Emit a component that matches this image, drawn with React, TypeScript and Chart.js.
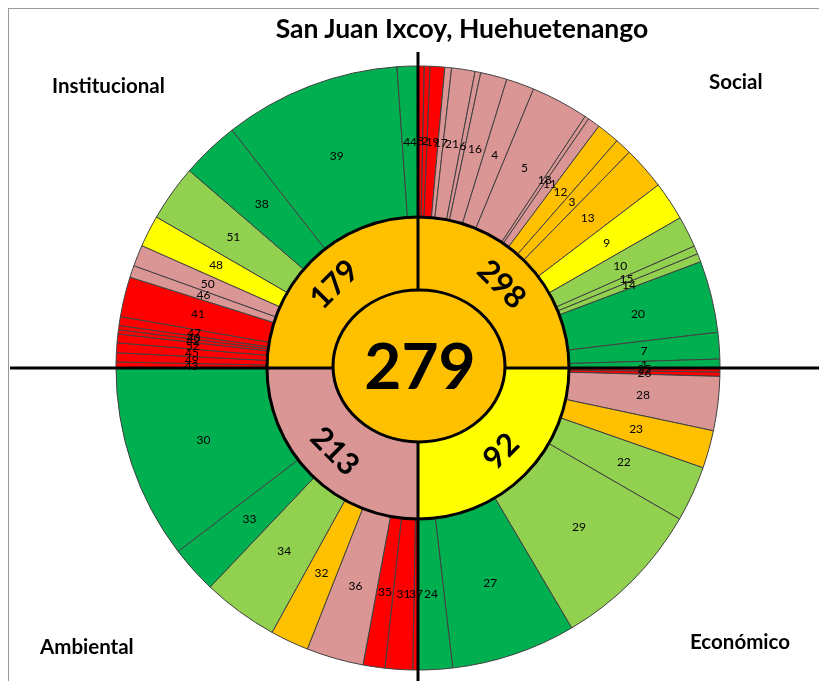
import React, { useEffect, useRef } from 'react';
import { Chart, registerables } from 'chart.js';

Chart.register(...registerables);

const TITLE = 'San Juan Ixcoy, Huehuetenango';
const CENTER_VALUE = '279';

// color keys: G green, L light green, Y yellow, O orange, P pink, R red
const PALETTE: Record<string, string> = {
  G: '#00B050',
  L: '#92D050',
  Y: '#FFFF00',
  O: '#FFC000',
  P: '#DA9694',
  R: '#FF0000',
};

// Middle ring: dimensions (clockwise from top)
const dimensionNames = ['Social', 'Económico', 'Ambiental', 'Institucional'];
const dimensionScores = ['298', '92', '213', '179'];
const dimensionShares = [90, 90, 90, 90];
const dimensionColors = ['O', 'Y', 'P', 'O'];

// Outer ring, per dimension: indicator numbers, angular share (degrees), color key
const socialLabels = ['8', '2', '19', '17', '21', '6', '16', '4', '5', '18', '11', '12', '3', '13', '9', '10', '15', '14', '20', '7', '1'];
const socialShares = [1.2, 1.1, 2.8, 1.3, 4.5, 1.1, 5.1, 5.4, 11.1, 0.8, 2.4, 4.4, 3.2, 8.3, 7.5, 6.0, 1.6, 1.6, 13.8, 5.1, 1.7];
const socialColors = ['R', 'R', 'R', 'P', 'P', 'P', 'P', 'P', 'P', 'P', 'P', 'O', 'O', 'O', 'Y', 'L', 'L', 'L', 'G', 'G', 'G'];

const economicoLabels = ['25', '26', '28', '23', '22', '29', '27', '24'];
const economicoShares = [0.8, 0.8, 10.4, 7.3, 10.7, 29.4, 24, 6.6];
const economicoColors = ['R', 'R', 'P', 'O', 'L', 'L', 'G', 'G'];

const ambientalLabels = ['37', '31', '35', '36', '32', '34', '33', '30'];
const ambientalShares = [1, 5.3, 4.2, 11, 7.4, 14.6, 9.1, 37.4];
const ambientalColors = ['R', 'R', 'R', 'P', 'O', 'L', 'G', 'G'];

const institucionalLabels = ['43', '49', '45', '52', '42', '40', '47', '41', '46', '50', '48', '51', '38', '39', '44'];
const institucionalShares = [1.15, 1.75, 1.9, 1.7, 0.8, 0.8, 1.7, 7.7, 2.3, 4.1, 6.1, 10.8, 11.2, 34, 4];
const institucionalColors = ['R', 'R', 'R', 'R', 'R', 'R', 'R', 'R', 'P', 'P', 'Y', 'L', 'G', 'G', 'G'];

const outerLabels = [...socialLabels, ...economicoLabels, ...ambientalLabels, ...institucionalLabels];
const outerShares = [...socialShares, ...economicoShares, ...ambientalShares, ...institucionalShares];
const outerColors = [...socialColors, ...economicoColors, ...ambientalColors, ...institucionalColors].map((k) => PALETTE[k]);

const FONT = 'Lato, "Open Sans", sans-serif';

const overlayPlugin = {
  id: 'sunburstOverlay',
  afterDatasetsDraw(chart: any) {
    const ctx: CanvasRenderingContext2D = chart.ctx;
    const outer = chart.getDatasetMeta(0);
    const mid = chart.getDatasetMeta(1);
    const a0 = mid.data[0];
    const cx = a0.x;
    const cy = a0.y;
    const rMid = a0.outerRadius;

    ctx.save();
    // ring boundary
    ctx.beginPath();
    ctx.arc(cx, cy, rMid, 0, Math.PI * 2);
    ctx.lineWidth = 3;
    ctx.strokeStyle = '#000';
    ctx.stroke();

    // cross lines
    ctx.beginPath();
    ctx.lineWidth = 3;
    ctx.moveTo(cx, 52);
    ctx.lineTo(cx, chart.height);
    ctx.moveTo(10, cy);
    ctx.lineTo(chart.width, cy);
    ctx.stroke();

    // middle ring labels, rotated along the ring
    ctx.fillStyle = '#000';
    ctx.textAlign = 'center';
    ctx.textBaseline = 'middle';
    ctx.font = `bold 31px ${FONT}`;
    mid.data.forEach((arc: any, i: number) => {
      const a = (arc.startAngle + arc.endAngle) / 2;
      const r = 118;
      const x = cx + Math.cos(a) * r;
      const y = cy + Math.sin(a) * r;
      let rot = a + Math.PI / 2;
      if (Math.sin(a) > 0) rot -= Math.PI;
      ctx.save();
      ctx.translate(x, y);
      ctx.rotate(rot);
      ctx.fillText(dimensionScores[i], 0, 0);
      ctx.restore();
    });

    // center ellipse
    ctx.beginPath();
    ctx.ellipse(cx + 1, cy - 2, 86, 76, 0, 0, Math.PI * 2);
    ctx.fillStyle = PALETTE.O;
    ctx.fill();
    ctx.lineWidth = 3;
    ctx.strokeStyle = '#000';
    ctx.stroke();

    ctx.fillStyle = '#000';
    ctx.font = `bold 64px ${FONT}`;
    ctx.fillText(CENTER_VALUE, cx + 2, cy);

    // outer labels
    ctx.font = `12px ${FONT}`;
    outer.data.forEach((arc: any, i: number) => {
      const p = arc.tooltipPosition();
      ctx.fillText(outerLabels[i], p.x, p.y);
    });
    ctx.restore();
  },
};

export default function App() {
  const ref = useRef<HTMLCanvasElement | null>(null);

  useEffect(() => {
    if (!ref.current) return;
    const chart = new Chart(ref.current, {
      type: 'doughnut',
      data: {
        labels: outerLabels,
        datasets: [
          {
            data: outerShares,
            backgroundColor: outerColors,
            borderColor: '#404040',
            borderWidth: 1,
            weight: 151,
          } as any,
          {
            data: dimensionShares,
            backgroundColor: dimensionColors.map((k) => PALETTE[k]),
            borderColor: '#000',
            borderWidth: 1,
            weight: 151,
          } as any,
        ],
      },
      options: {
        responsive: false,
        maintainAspectRatio: false,
        animation: false,
        devicePixelRatio: 1,
        cutout: 0,
        radius: 302,
        layout: { padding: { left: 17, right: 0, top: 55, bottom: 0 } },
        plugins: {
          legend: { display: false },
          tooltip: { enabled: false },
          title: { display: false },
        },
      } as any,
      plugins: [overlayPlugin],
    });
    return () => chart.destroy();
  }, []);

  const labelStyle: React.CSSProperties = {
    position: 'absolute',
    fontFamily: FONT,
    fontWeight: 700,
    fontSize: 20.5,
    lineHeight: '20px',
    color: '#000',
    whiteSpace: 'nowrap',
  };

  return (
    <div style={{ position: 'absolute', left: 0, top: 0, width: 819, height: 681, overflow: 'hidden', background: '#fff' }}>
      <div style={{ position: 'absolute', left: 8, top: 8, width: 900, height: 900, borderLeft: '1px solid #9a9a9a', borderTop: '1px solid #9a9a9a' }} />
      <canvas ref={ref} width={819} height={681} style={{ position: 'absolute', left: 0, top: 0, width: 819, height: 681 }} />
      <div style={{ ...labelStyle, left: 212, width: 500, top: 14, fontSize: 26.5, lineHeight: '28px', textAlign: 'center' }}>{TITLE}</div>
      <div style={{ ...labelStyle, left: 52, top: 75 }}>{dimensionNames[3]}</div>
      <div style={{ ...labelStyle, left: 709, top: 71 }}>{dimensionNames[0]}</div>
      <div style={{ ...labelStyle, left: 40, top: 636 }}>{dimensionNames[2]}</div>
      <div style={{ ...labelStyle, left: 690, top: 631 }}>{dimensionNames[1]}</div>
    </div>
  );
}
